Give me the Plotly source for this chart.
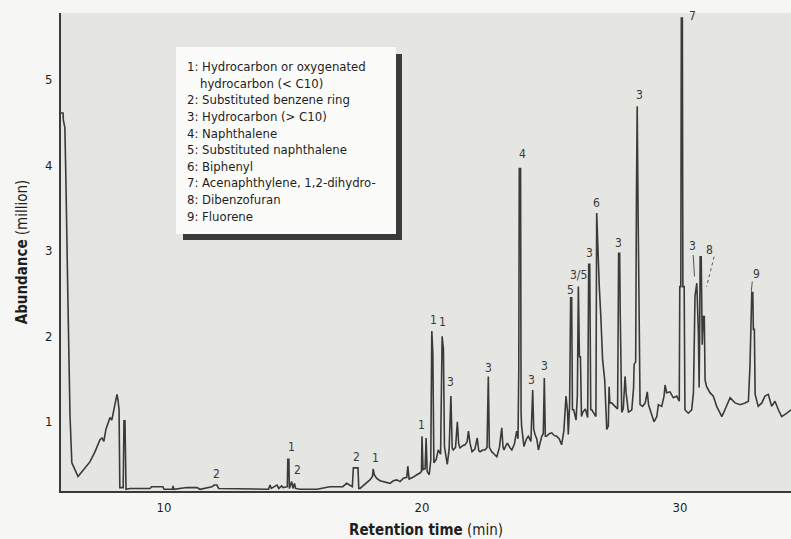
import plotly.graph_objects as go

# ---- chromatogram trace (retention time in min, abundance in million) ----
time_min = [
    6.01, 6.09, 6.10, 6.16, 6.20, 6.24, 6.28, 6.36, 6.43, 6.55, 6.67, 6.78, 6.94, 7.13, 7.33,
    7.52, 7.60, 7.67, 7.75, 7.91, 7.98, 8.10, 8.18, 8.22, 8.26, 8.29, 8.42, 8.45, 8.49, 8.53,
    8.68, 9.46, 9.52, 9.96, 10.00, 10.33, 10.35, 10.38, 10.89, 11.28, 11.40, 11.86, 11.95, 12.05,
    12.12, 14.05, 14.11, 14.16, 14.38, 14.45, 14.56, 14.62, 14.78, 14.80, 14.84, 14.86, 14.95,
    15.00, 15.06, 15.10, 15.27, 15.93, 16.16, 16.43, 16.93, 17.08, 17.30, 17.34, 17.52, 17.55,
    17.60, 17.98, 18.08, 18.11, 18.15, 18.24, 18.37, 18.50, 18.63, 18.76, 18.89, 19.02, 19.15,
    19.28, 19.41, 19.45, 19.50, 19.65, 19.80, 19.92,
    19.98, 20.00, 20.04, 20.12, 20.16, 20.20, 20.28, 20.34, 20.38, 20.42, 20.46, 20.55, 20.63,
    20.72, 20.78, 20.83, 20.87, 20.98, 21.05, 21.12, 21.17, 21.21, 21.30, 21.37, 21.42, 21.47,
    21.57, 21.67, 21.75, 21.80, 21.86, 21.94, 22.05, 22.14, 22.20, 22.25, 22.35, 22.44, 22.52,
    22.57, 22.61, 22.70, 22.80, 22.90, 23.00, 23.09, 23.14, 23.18, 23.25, 23.31, 23.40, 23.48,
    23.58, 23.67, 23.72, 23.75, 23.77, 23.82, 23.84, 23.86, 23.95, 24.05, 24.12, 24.22, 24.29,
    24.33, 24.38, 24.45, 24.51, 24.58, 24.64, 24.70, 24.74, 24.78, 24.83, 24.93, 25.03, 25.12,
    25.22, 25.32, 25.41, 25.50, 25.58, 25.64, 25.67, 25.72, 25.76, 25.80, 25.83, 25.88, 25.97,
    26.02, 26.06, 26.10, 26.14, 26.18, 26.23, 26.33, 26.42, 26.46, 26.50, 26.54, 26.58, 26.68,
    26.74, 26.77, 26.82, 26.87, 26.93, 27.00, 27.08, 27.16,
    27.22, 27.25, 27.28, 27.35, 27.48, 27.58, 27.62, 27.66, 27.68, 27.71, 27.74, 27.80, 27.87,
    27.91, 28.00, 28.13, 28.20, 28.22, 28.28, 28.31, 28.34, 28.37, 28.42, 28.45, 28.55, 28.65,
    28.73, 28.78, 28.84, 28.99, 29.10, 29.16, 29.29, 29.38, 29.42, 29.48, 29.61, 29.74, 29.87,
    29.97, 29.99, 30.03, 30.05, 30.09, 30.11, 30.16, 30.19, 30.32, 30.45, 30.52, 30.58, 30.65,
    30.71, 30.74, 30.76, 30.78, 30.82, 30.86, 30.90, 30.94, 30.97, 31.03, 31.16, 31.29, 31.42,
    31.62, 31.74, 31.94, 32.13, 32.33, 32.52, 32.65, 32.71, 32.78, 32.82, 32.84, 32.88, 32.91,
    33.03, 33.17, 33.29, 33.42, 33.55, 33.68, 33.81, 33.94, 34.14, 34.30,
]
abundance_million = [
    4.61, 4.61, 4.53, 4.44, 3.83, 2.81, 2.39, 1.06, 0.52, 0.44, 0.36, 0.40, 0.46, 0.53, 0.65,
    0.79, 0.81, 0.77, 0.91, 1.05, 1.02, 1.19, 1.32, 1.25, 1.14, 0.23, 0.23, 1.01, 1.01, 0.21,
    0.22, 0.22, 0.24, 0.24, 0.21, 0.21, 0.25, 0.21, 0.23, 0.23, 0.21, 0.24, 0.26, 0.26,
    0.22, 0.21, 0.26, 0.22, 0.26, 0.22, 0.25, 0.23, 0.24, 0.56, 0.56, 0.22, 0.30,
    0.22, 0.28, 0.22, 0.21, 0.21, 0.22, 0.24, 0.24, 0.28, 0.24, 0.46, 0.46, 0.22,
    0.22, 0.32, 0.36, 0.45, 0.38, 0.34, 0.31, 0.30, 0.29, 0.28, 0.31, 0.32, 0.30,
    0.34, 0.35, 0.48, 0.33, 0.35, 0.38, 0.40,
    0.42, 0.83, 0.44, 0.45, 0.81, 0.42, 0.38, 0.55, 2.06, 1.80, 0.52, 0.56, 0.67,
    0.62, 2.00, 1.85, 0.71, 0.50, 0.67, 1.30, 0.69, 0.67, 0.70, 1.00, 0.75, 0.69,
    0.72, 0.73, 0.77, 0.89, 0.75, 0.65, 0.68, 0.81, 0.66, 0.65, 0.67, 0.67, 0.70,
    1.53, 0.70, 0.65, 0.62, 0.59, 0.70, 0.93, 0.70, 0.67, 0.72, 0.75, 0.70, 0.67,
    0.74, 0.89, 0.80, 1.60, 3.96, 3.96, 1.10, 0.95, 0.71, 0.80, 0.83, 0.77, 1.37,
    0.91, 0.85, 0.80, 0.67, 0.78, 0.83, 0.86, 1.51, 0.83, 0.83, 0.86, 0.87, 0.84,
    0.83, 0.80, 0.73, 0.90, 1.30, 1.12, 0.85, 1.20, 2.45, 2.45, 1.14, 1.14, 1.02,
    1.30, 2.58, 1.76, 1.76, 1.06, 1.11, 1.15, 1.05, 2.84, 2.84, 1.14, 1.14, 1.09,
    1.06, 3.44, 2.90, 2.58, 2.23, 1.72, 1.49, 0.91,
    0.95, 1.41, 1.22, 1.22, 1.18, 1.15, 2.97, 2.97, 2.31, 1.69, 1.11, 1.15, 1.53,
    1.34, 1.11, 1.14, 1.40, 1.67, 1.70, 3.60, 4.69, 3.60, 1.40, 1.20, 1.18, 1.22,
    1.35, 1.20, 1.14, 1.00, 1.06, 1.20, 1.18, 1.30, 1.43, 1.34, 1.35, 1.28, 1.30,
    1.24, 2.58, 2.58, 5.72, 5.72, 2.58, 2.58, 1.14, 1.10, 1.14, 1.34, 2.47, 2.62,
    2.04, 1.40, 2.00, 2.93, 2.93, 1.90, 2.23, 2.23, 1.49, 1.41, 1.34, 1.30, 1.18,
    1.06, 1.14, 1.28, 1.22, 1.20, 1.22, 1.24, 1.65, 2.51, 2.51, 2.08, 2.08, 1.32,
    1.18, 1.22, 1.30, 1.32, 1.18, 1.24, 1.14, 1.06, 1.10, 1.14,
]

# ---- peak labels (text, time, abundance where the label sits) ----
peak_label_text = ["2", "1", "2", "2", "1", "1", "1", "1", "3", "3", "4", "3", "3",
                   "5", "3/5", "3", "6", "3", "3", "7", "3", "8", "9"]
peak_label_time = [12.02, 14.95, 15.19, 17.48, 18.18, 19.99, 20.43, 20.81, 21.12, 22.56,
                   23.90, 24.26, 24.73, 25.74, 26.06, 26.49, 26.77, 27.61, 28.41, 30.50,
                   30.49, 31.16, 32.95]
peak_label_abund = [0.39, 0.71, 0.44, 0.59, 0.58, 0.96, 2.19, 2.17, 1.47, 1.63,
                    4.13, 1.49, 1.65, 2.54, 2.72, 2.97, 3.56, 3.09, 4.82, 5.74,
                    3.05, 3.01, 2.73]

# ---- key ----
key_lines = [
    "1: Hydrocarbon or oxygenated",
    "hydrocarbon (&lt; C10)",
    "2: Substituted benzene ring",
    "3: Hydrocarbon (&gt; C10)",
    "4: Naphthalene",
    "5: Substituted naphthalene",
    "6: Biphenyl",
    "7: Acenaphthylene, 1,2-dihydro-",
    "8: Dibenzofuran",
    "9: Fluorene",
]

x_ticks = [10, 20, 30]
y_ticks = [1, 2, 3, 4, 5]

FONT = "Liberation Sans Narrow, DejaVu Sans Condensed, Arial Narrow, sans-serif"
W, H = 791, 539
ML, MR, MT, MB = 61, 0, 13, 48
PW, PH = W - ML - MR, H - MT - MB


def px(x):
    return (x - ML) / PW


def py(y):
    return (H - MB - y) / PH


fig = go.Figure()
fig.add_trace(go.Scatter(
    x=time_min, y=abundance_million, mode="lines",
    line=dict(color="#3a3a3a", width=1.6),
    hoverinfo="skip", showlegend=False,
))

for txt, t, a in zip(peak_label_text, peak_label_time, peak_label_abund):
    fig.add_annotation(x=t, y=a, text=txt, showarrow=False, xref="x", yref="y",
                       font=dict(family=FONT, size=12, color="#3a3a3a"),
                       xanchor="center", yanchor="middle")

# pointer lines for labels 3, 8, 9 near 30-33 min
fig.add_shape(type="line", xref="x", yref="y", x0=30.51, y0=2.95, x1=30.56, y1=2.70,
              line=dict(color="#555", width=1))
fig.add_shape(type="line", xref="x", yref="y", x0=31.32, y0=2.93, x1=31.03, y1=2.58,
              line=dict(color="#555", width=1, dash="dot"))
fig.add_shape(type="line", xref="x", yref="y", x0=32.80, y0=2.64, x1=32.76, y1=2.52,
              line=dict(color="#555", width=1))

# key box with shadow
fig.add_shape(type="rect", xref="paper", yref="paper", layer="below",
              x0=px(183), x1=px(402), y0=py(240), y1=py(54),
              fillcolor="#3b3b3b", line=dict(width=0))
fig.add_shape(type="rect", xref="paper", yref="paper", layer="below",
              x0=px(176), x1=px(396), y0=py(234), y1=py(47),
              fillcolor="#fbfbf9", line=dict(width=0))
for i, line in enumerate(key_lines):
    xl = 198 if i == 1 else 185
    fig.add_annotation(x=px(xl), y=py(66.7 + 16.6 * i), xref="paper", yref="paper",
                       text=line, showarrow=False, xanchor="left", yanchor="middle",
                       font=dict(family=FONT, size=13, color="#1e1e1e"))

fig.update_layout(
    width=W, height=H,
    margin=dict(l=ML, r=MR, t=MT, b=MB, pad=0),
    paper_bgcolor="#f6f6f4", plot_bgcolor="#e5e5e1",
    font=dict(family=FONT, color="#1e1e1e"),
    xaxis=dict(range=[6.01, 34.3], tickvals=x_ticks, ticktext=[str(v) for v in x_ticks],
               showgrid=False, zeroline=False, showline=True, linecolor="#3a3a3a",
               linewidth=2, ticks="", ticklabelstandoff=3,
               tickfont=dict(family=FONT, size=13, color="#1e1e1e"),
               title=dict(text="<b>Retention time</b> (min)", standoff=13,
                          font=dict(family=FONT, size=15, color="#1e1e1e"))),
    yaxis=dict(range=[0.19, 5.78], tickvals=y_ticks, ticktext=[str(v) for v in y_ticks],
               showgrid=False, zeroline=False, showline=True, linecolor="#3a3a3a",
               linewidth=2, ticks="", ticklabelstandoff=4,
               tickfont=dict(family=FONT, size=13, color="#1e1e1e"),
               title=dict(text="<b>Abundance</b> (million)", standoff=14,
                          font=dict(family=FONT, size=15, color="#1e1e1e"))),
)

fig.write_html("out.html", config={"displayModeBar": False},
               post_script="document.body.style.margin='0';")
